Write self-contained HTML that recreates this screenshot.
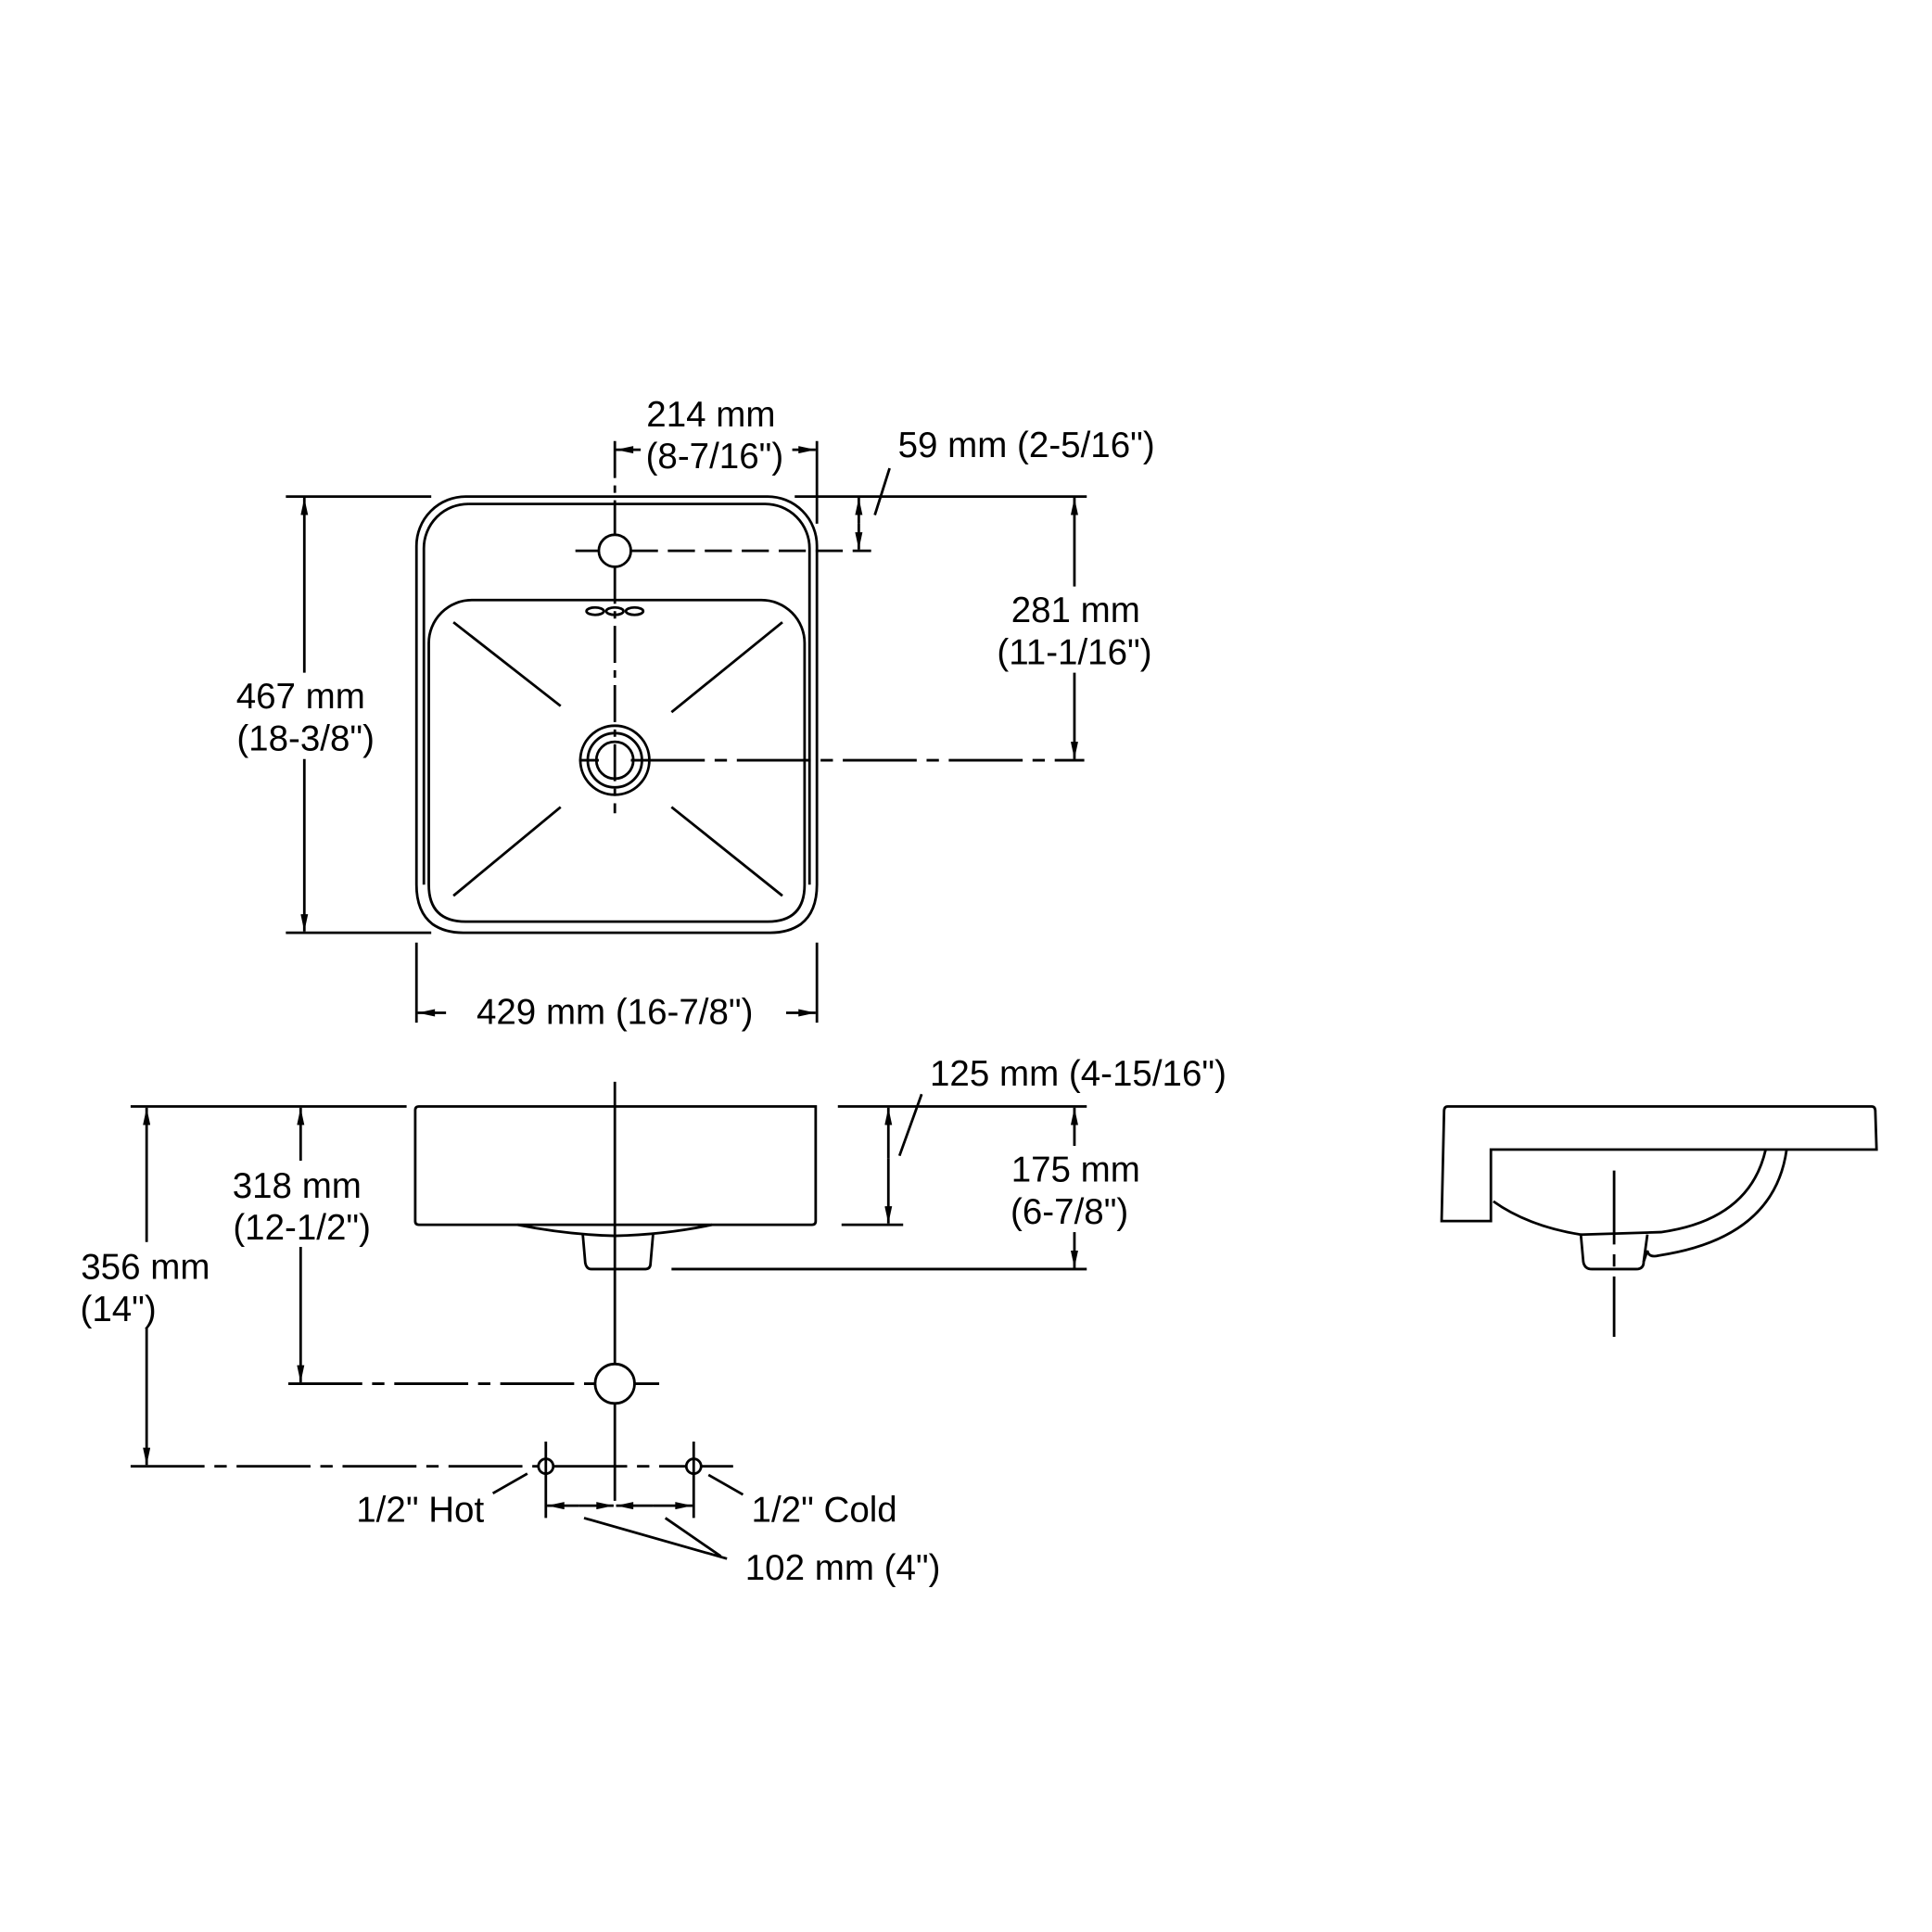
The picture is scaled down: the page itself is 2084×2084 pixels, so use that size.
<!DOCTYPE html>
<html><head><style>html,body{margin:0;padding:0;background:#fff}svg{display:block}</style></head>
<body>
<svg width="2084" height="2084" viewBox="0 0 1568 1568" xmlns="http://www.w3.org/2000/svg" font-family="Liberation Sans, sans-serif" font-size="29" fill="none" stroke="#000" stroke-width="2.1">
<defs><marker id="a" viewBox="0 0 14 6" refX="14" refY="3" markerWidth="16" markerHeight="6" markerUnits="userSpaceOnUse" orient="auto"><path d="M0,0L14,3L0,6z" fill="#000" stroke="none"/></marker></defs>
<!-- TOP VIEW -->
<path d="M378,403H623A40,40 0 0 1 663,443V718Q663,740 650,750Q640,757 625,757H376Q361,757 351,750Q338,740 338,718V443A40,40 0 0 1 378,403Z"/>
<path d="M380,409H621A36,36 0 0 1 657,445V718"/>
<path d="M344,718V445A36,36 0 0 1 380,409"/>
<path d="M348,718V522A35,35 0 0 1 383,487H618A35,35 0 0 1 653,522V718Q653,748 623,748H378Q348,748 348,718Z"/>
<path d="M368,505L455,573M635,505L545,578M368,727L455,655M635,727L545,655"/>
<circle cx="499" cy="617" r="28"/><circle cx="499" cy="617" r="22"/><circle cx="499" cy="617" r="15"/>
<circle cx="499" cy="447" r="13"/>
<ellipse cx="483" cy="496" rx="7" ry="3"/><ellipse cx="499" cy="496" rx="7" ry="3"/><ellipse cx="515" cy="496" rx="7" ry="3"/>
<path d="M499,358V434M499,460V660" stroke-dasharray="30,6,6,6"/>
<path d="M467,447H486M512,447H707" stroke-dasharray="22,8"/>
<path d="M470,617H486M512,617H880" stroke-dasharray="60,8,10,8"/>
<!-- 214 -->
<path d="M663,358V425"/>
<path d="M520,365H500" marker-end="url(#a)"/><path d="M643,365H662" marker-end="url(#a)"/>
<text x="577" y="346" fill="#000" stroke="none" text-anchor="middle">214 mm</text>
<text x="580" y="380" fill="#000" stroke="none" text-anchor="middle">(8-7/16")</text>
<!-- 59 / 281 -->
<path d="M645,403H882M232,403H350M232,757H350"/>
<path d="M697,425V404" marker-end="url(#a)"/><path d="M697,425V446" marker-end="url(#a)"/>
<path d="M710,418L722,380"/>
<text x="833" y="371" fill="#000" stroke="none" text-anchor="middle">59 mm (2-5/16")</text>
<path d="M872,476V404" marker-end="url(#a)"/><path d="M872,546V616" marker-end="url(#a)"/>
<text x="873" y="505" fill="#000" stroke="none" text-anchor="middle">281 mm</text>
<text x="872" y="539" fill="#000" stroke="none" text-anchor="middle">(11-1/16")</text>
<!-- 467 -->
<path d="M247,546V404" marker-end="url(#a)"/><path d="M247,616V756" marker-end="url(#a)"/>
<text x="244" y="575" fill="#000" stroke="none" text-anchor="middle">467 mm</text>
<text x="248" y="609" fill="#000" stroke="none" text-anchor="middle">(18-3/8")</text>
<!-- 429 -->
<path d="M338,765V830M663,765V830"/>
<path d="M362,822H339" marker-end="url(#a)"/><path d="M638,822H662" marker-end="url(#a)"/>
<text x="499" y="831" fill="#000" stroke="none" text-anchor="middle">429 mm (16-7/8")</text>
<!-- FRONT VIEW -->
<path d="M340,898H662V991Q662,994 659,994H340Q337,994 337,991V901Q337,898 340,898Z"/>
<path d="M420,994Q460,1002 499,1003Q540,1002 578,994"/>
<path d="M473,1002L475,1025Q476,1030 480,1030H524Q528,1030 528,1025L530,1002"/>
<path d="M499,878V1218"/>
<path d="M106,898H330M680,898H882M683,994H733M545,1030H882"/>
<path d="M872,930V899" marker-end="url(#a)"/><path d="M872,1000V1029" marker-end="url(#a)"/>
<text x="873" y="959" fill="#000" stroke="none" text-anchor="middle">175 mm</text>
<text x="868" y="993" fill="#000" stroke="none" text-anchor="middle">(6-7/8")</text>
<path d="M721,940V899" marker-end="url(#a)"/><path d="M721,940V993" marker-end="url(#a)"/>
<path d="M730,938L748,888"/>
<text x="875" y="881" fill="#000" stroke="none" text-anchor="middle">125 mm (4-15/16")</text>
<path d="M244,942V899" marker-end="url(#a)"/><path d="M244,1012V1122" marker-end="url(#a)"/>
<text x="241" y="972" fill="#000" stroke="none" text-anchor="middle">318 mm</text>
<text x="245" y="1006" fill="#000" stroke="none" text-anchor="middle">(12-1/2")</text>
<path d="M119,1008V899" marker-end="url(#a)"/><path d="M119,1078V1189" marker-end="url(#a)"/>
<text x="118" y="1038" fill="#000" stroke="none" text-anchor="middle">356 mm</text>
<text x="96" y="1072" fill="#000" stroke="none" text-anchor="middle">(14")</text>
<circle cx="499" cy="1123" r="16" fill="#fff"/>
<path d="M234,1123H483" stroke-dasharray="60,8,10,8"/><path d="M515,1123H535"/>
<path d="M106,1190H437M449,1190H557M569,1190H595" stroke-dasharray="60,8,10,8"/>
<circle cx="443" cy="1190" r="6"/><circle cx="563" cy="1190" r="6"/>
<path d="M443,1170V1232M563,1170V1232"/>
<path d="M470,1222H444" marker-end="url(#a)"/><path d="M470,1222H498" marker-end="url(#a)"/>
<path d="M530,1222H500" marker-end="url(#a)"/><path d="M530,1222H562" marker-end="url(#a)"/>
<path d="M474,1232L590,1265M540,1232L585,1263M400,1212L428,1196M603,1213L575,1197"/>
<text x="341" y="1235" fill="#000" stroke="none" text-anchor="middle">1/2" Hot</text>
<text x="669" y="1235" fill="#000" stroke="none" text-anchor="middle">1/2" Cold</text>
<text x="684" y="1282" fill="#000" stroke="none" text-anchor="middle">102 mm (4")</text>
<!-- SIDE VIEW -->
<path d="M1175,898H1519Q1522,898 1522,902L1523,933H1210V991H1170L1172,902Q1172,898 1175,898Z"/>
<path d="M1212,975Q1240,995 1283,1002L1285,1024Q1286,1030 1292,1030H1328Q1334,1030 1334,1024L1337,1015Q1338,1021 1346,1019Q1440,1005 1450,933"/>
<path d="M1283,1002L1348,1000Q1420,990 1433,933"/>
<path d="M1337,1002L1334,1024"/>
<path d="M1310,950V1085" stroke-dasharray="60,8,10,8"/>
</svg>
</body></html>
